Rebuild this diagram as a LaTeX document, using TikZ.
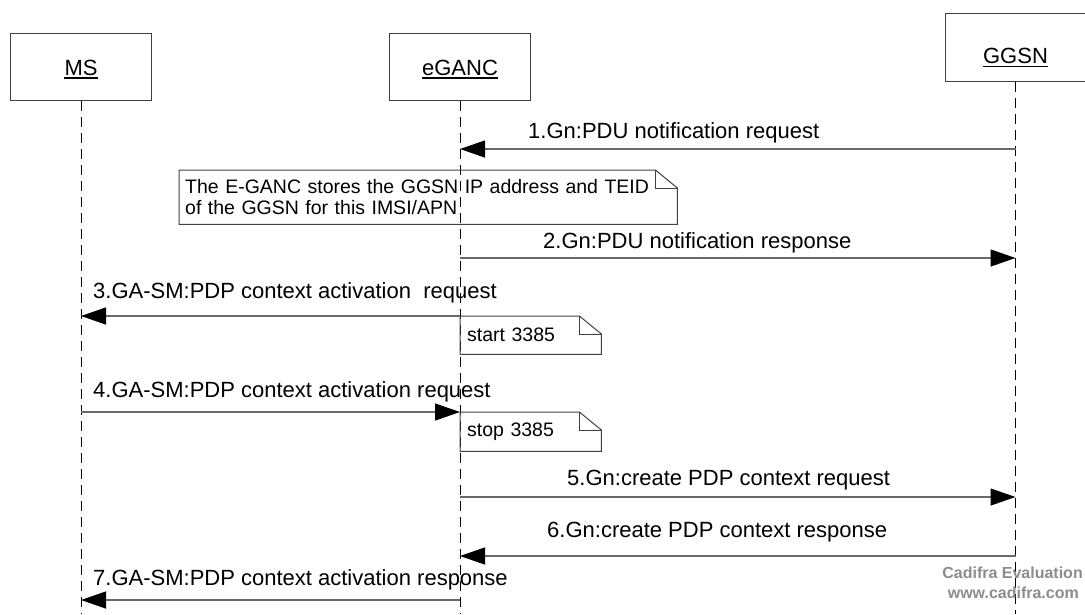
\documentclass[tikz,border=0pt]{standalone}
\usepackage{fontspec}
\setmainfont{Liberation Sans}
\usetikzlibrary{arrows.meta}
\definecolor{msggray}{RGB}{105,105,105}
\definecolor{markgray}{RGB}{140,140,140}
\tikzset{
	% styles for the sequence chart: boxes, lifelines, messages, notes
	entity box/.style={draw=black!75,line width=1pt,minimum width=141pt,minimum height=67pt,inner sep=0pt},
	entity name/.style={anchor=base,inner sep=0pt},
	lifeline/.style={draw=black,line width=1pt,dash pattern=on 10pt off 6pt},
	msg line/.style={draw=msggray,line width=1.3pt,-{Triangle[length=25pt,width=17pt,color=black,fill=black]}},
	msg text/.style={anchor=base west,inner sep=0pt},
	note box/.style={anchor=north west,inner xsep=7pt,inner ysep=0pt,align=left,font=\fontsize{19.5}{21.5}\selectfont},
	note pen/.style={draw=black!75,line width=1pt}
}

\begin{document}
\begin{tikzpicture}[x=1pt,y=-1pt,font=\fontsize{22}{26}\selectfont]
	\useasboundingbox (0,0) rectangle (1085,614);
	% macro for an entity box with its underlined name
	\newcommand{\entity}[5]{
		\node[entity box,minimum height=#5] (#1) at (#2,#3) {};
		\node[entity name] (#1-name) at (#2,#4) {#1};
		\draw[line width=1.4pt] ([yshift=-3pt]#1-name.base west) -- ([yshift=-3pt]#1-name.base east);
	}
	% macro for a message: from, to, arrow y, label x, label y, text
	\newcommand{\sendmsg}[6]{
		\coordinate (#1-#3) at (#1.south |- 0,#3);
		\coordinate (#2-#3) at (#2.south |- 0,#3);
		\draw[msg line] (#1-#3) -- (#2-#3);
		\node[msg text] (msg-#3) at (#4,#5) {#6};
	}
	% macro for the outline of a note with a folded corner
	\newcommand{\dogear}[1]{
		\draw[note pen] (#1.north west) -- ([xshift=-22pt]#1.north east) -- ([yshift=-18pt]#1.north east) -- (#1.south east) -- (#1.south west) -- cycle;
		\draw[note pen] ([xshift=-22pt]#1.north east) -- ([xshift=-22pt,yshift=-18pt]#1.north east) -- ([yshift=-18pt]#1.north east);
	}
	
	\entity{MS}{81}{66.5}{75}{67pt}
	\entity{eGANC}{460}{66.5}{75}{67pt}
	\entity{GGSN}{1015.5}{47}{63.5}{68pt}
	
	\coordinate (MS-end) at (MS.south |- 0,614);
	\coordinate (eGANC-end) at (eGANC.south |- 0,614);
	\coordinate (GGSN-end) at (GGSN.south |- 0,614);
	\draw[lifeline] (MS.south) -- (MS-end);
	\draw[lifeline] (eGANC.south) -- (eGANC-end);
	\draw[lifeline] (GGSN.south) -- (GGSN-end);
	
	\sendmsg{GGSN}{eGANC}{149}{528}{138}{1.Gn:PDU notification request}
	\sendmsg{eGANC}{GGSN}{258}{543}{248}{2.Gn:PDU notification response}
	\sendmsg{eGANC}{MS}{316}{93}{298}{3.GA-SM:PDP context activation\ \ request}
	\sendmsg{MS}{eGANC}{412}{93}{397}{4.GA-SM:PDP context activation request}
	\sendmsg{eGANC}{GGSN}{497}{567}{485}{5.Gn:create PDP context request}
	\sendmsg{GGSN}{eGANC}{556}{547}{537}{6.Gn:create PDP context response}
	\sendmsg{eGANC}{MS}{600}{93}{585}{7.GA-SM:PDP context activation response}
	
	\node[note box,text width=486pt,minimum height=54pt,inner xsep=6pt] (note-store) at (179,170)
		{The E-GANC stores the GGSN IP address and TEID\\of the GGSN for this IMSI/APN};
	\dogear{note-store}
	\node[note box,text width=127pt,minimum height=38pt] (note-start) at (eGANC-316) {start 3385};
	\dogear{note-start}
	\node[note box,text width=127pt,minimum height=39pt] (note-stop) at (eGANC-412) {stop 3385};
	\dogear{note-stop}
	
	\node[anchor=base east,inner sep=0pt,text=markgray,font=\bfseries\fontsize{16}{20}\selectfont] (mark-1) at (1083,578) {Cadifra Evaluation};
	\node[anchor=base east,inner sep=0pt,text=markgray,font=\bfseries\fontsize{16}{20}\selectfont] (mark-2) at (1079,598) {www.cadifra.com};
\end{tikzpicture}
\end{document}
